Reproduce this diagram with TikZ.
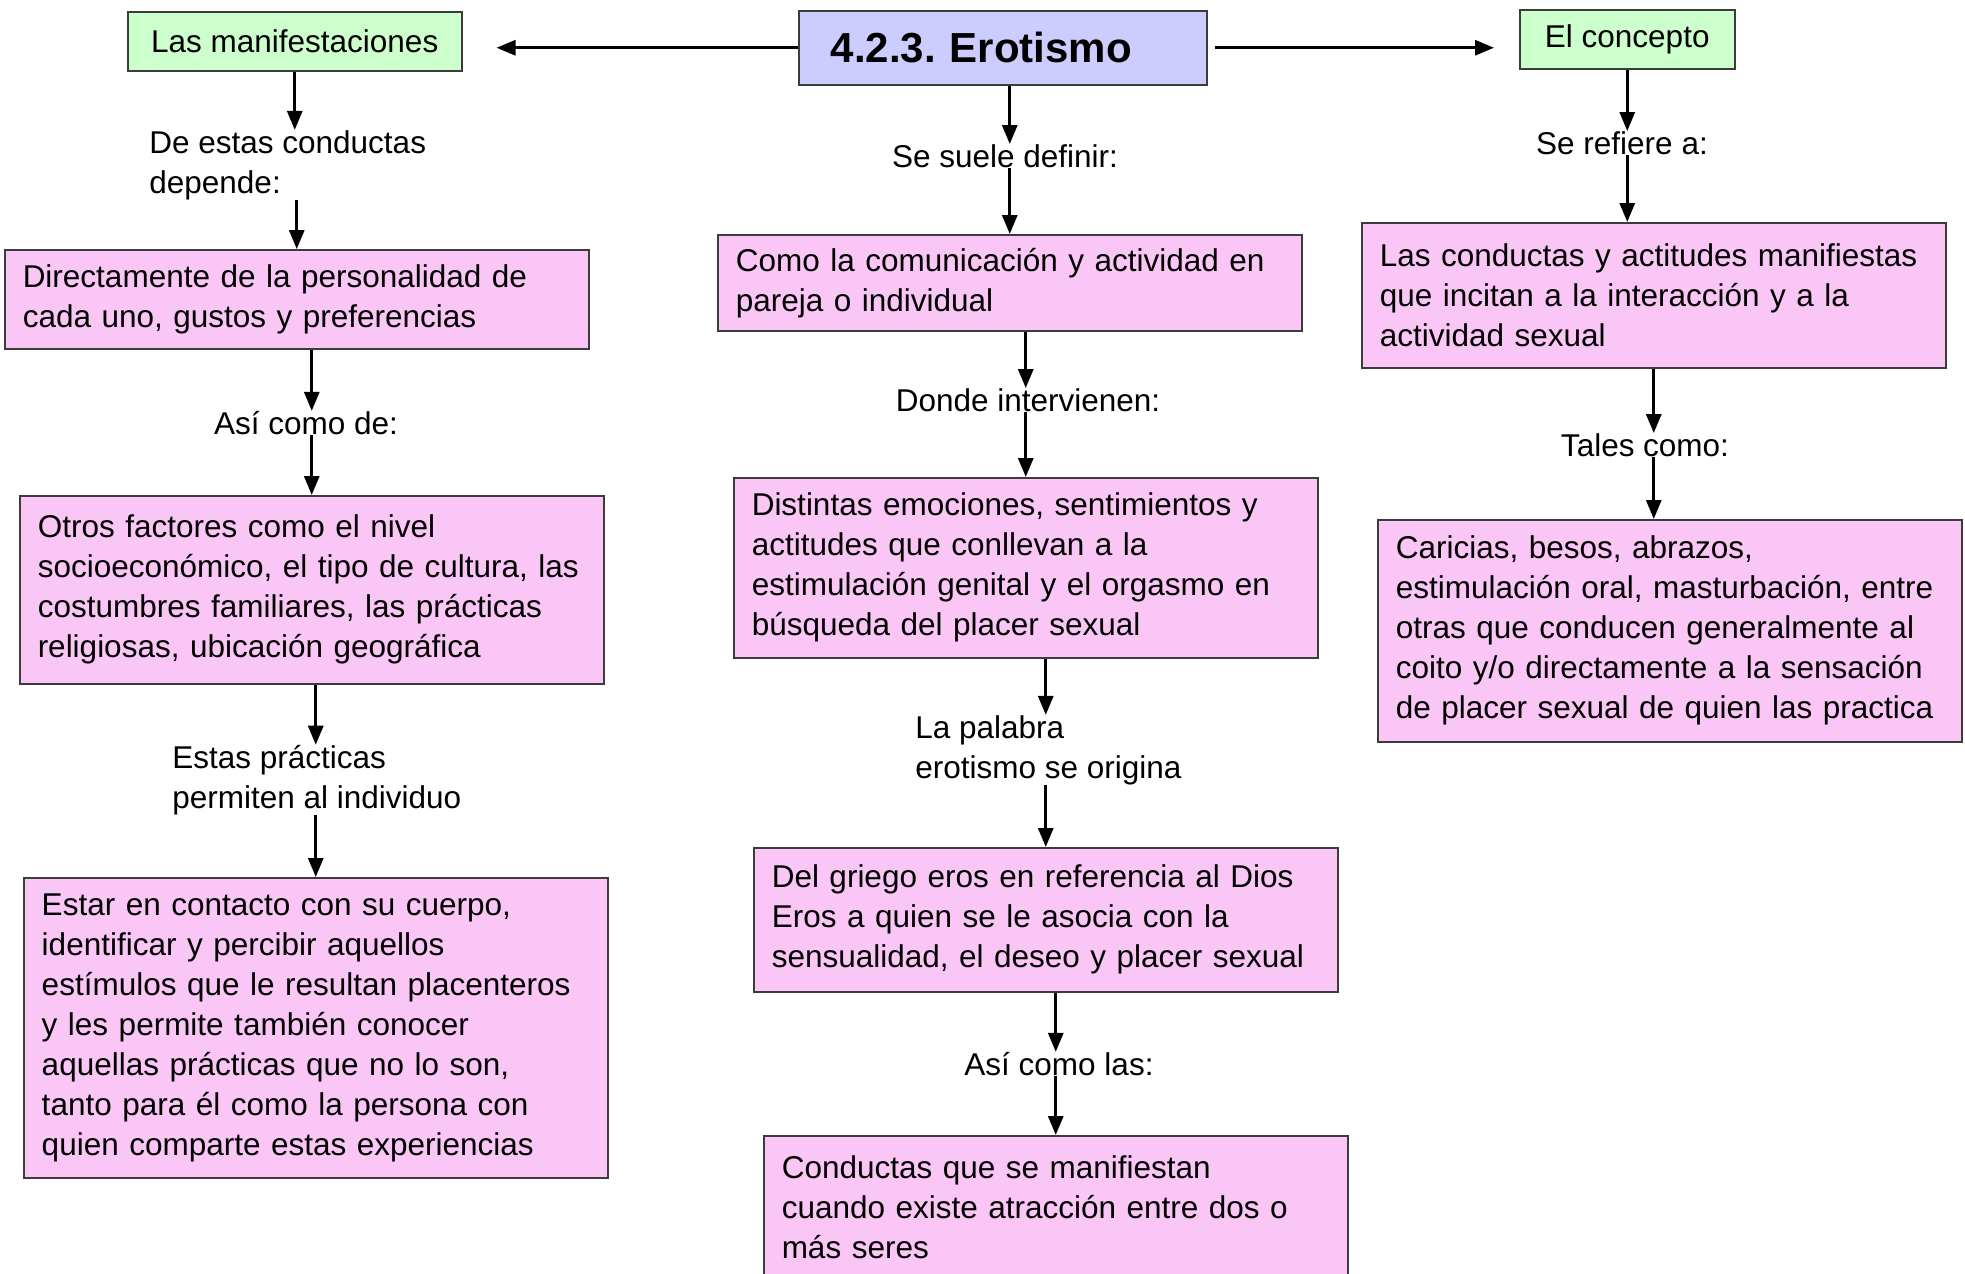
\documentclass[tikz,border=0pt]{standalone}
\usepackage{fontspec}
\setmainfont{Liberation Sans}
\usetikzlibrary{arrows.meta}
\definecolor{cPink}{RGB}{250,198,245}
\definecolor{cGreen}{RGB}{204,255,204}
\definecolor{cBlue}{RGB}{204,204,255}
\definecolor{cEdge}{RGB}{60,60,60}
\frenchspacing
\begin{document}
\begin{tikzpicture}[x=0.5pt,y=-0.5pt,
  base/.style={draw=cEdge, line width=0.75pt, inner ysep=0pt, font=\fontsize{15.75}{20}\selectfont},
  pinkbox/.style={base, fill=cPink, anchor=north west, text width=274pt, inner xsep=9pt, align=left, minimum width=292pt},
  greenbox/.style={base, fill=cGreen, anchor=north west, align=center, inner xsep=0pt},
  lbl/.style={inner sep=0pt, font=\fontsize{15.75}{20}\selectfont, align=left},
  arr/.style={line width=1.5pt, -{Triangle[length=9.5pt,width=7.5pt]}}
]
\useasboundingbox (0,0) rectangle (1965,1274);

% top row
\node[base, fill=cBlue, anchor=north west, minimum width=204pt, minimum height=37pt, text width=172pt, inner xsep=16pt, align=left, font=\fontsize{21}{25}\selectfont\bfseries] (title) at (798,10) {4.2.3. Erotismo};
\node[greenbox, minimum width=167pt, minimum height=29.5pt] (manif) at (127,11) {Las manifestaciones};
\node[greenbox, minimum width=107.5pt, minimum height=29.5pt] (concepto) at (1519,9) {El concepto};

% left column
\node[lbl, anchor=west] (dep) at (149,165) {De estas conductas\\depende:};
\node[pinkbox, minimum height=49.5pt] (dir) at (4,249) {Directamente de la personalidad de\\cada uno, gustos y preferencias};
\node[lbl] (asi1) at (306,423) {Así como de:};
\node[pinkbox, minimum height=94pt] (otros) at (19,495) {Otros factores como el nivel\\socioeconómico, el tipo de cultura, las\\costumbres familiares, las prácticas\\religiosas, ubicación geográfica};
\node[lbl, anchor=west] (estas) at (172,780) {Estas prácticas\\permiten al individuo};
\node[pinkbox, minimum height=150pt] (estar) at (23,877) {Estar en contacto con su cuerpo,\\identificar y percibir aquellos\\estímulos que le resultan placenteros\\y les permite también conocer\\aquellas prácticas que no lo son,\\tanto para él como la persona con\\quien comparte estas experiencias};

% middle column
\node[lbl] (sse) at (1005,156) {Se suele definir:};
\node[pinkbox, minimum height=48pt] (como) at (717,234) {Como la comunicación y actividad en\\pareja o individual};
\node[lbl] (donde) at (1028,400) {Donde intervienen:};
\node[pinkbox, minimum height=90pt] (dist) at (733,477) {Distintas emociones, sentimientos y\\actitudes que conllevan a la\\estimulación genital y el orgasmo en\\búsqueda del placer sexual};
\node[lbl, anchor=west] (pal) at (915,750) {La palabra\\erotismo se origina};
\node[pinkbox, minimum height=72pt] (griego) at (753,847) {Del griego eros en referencia al Dios\\Eros a quien se le asocia con la\\sensualidad, el deseo y placer sexual};
\node[lbl] (asi2) at (1059,1064) {Así como las:};
\node[pinkbox, minimum height=71pt] (cond) at (763,1135) {Conductas que se manifiestan\\cuando existe atracción entre dos o\\más seres};

% right column
\node[lbl] (ref) at (1622,143) {Se refiere a:};
\node[pinkbox, minimum height=72.5pt] (lasc) at (1361,222) {Las conductas y actitudes manifiestas\\que incitan a la interacción y a la\\actividad sexual};
\node[lbl] (tales) at (1645,445) {Tales como:};
\node[pinkbox, minimum height=111pt] (caric) at (1377,519) {Caricias, besos, abrazos,\\estimulación oral, masturbación, entre\\otras que conducen generalmente al\\coito y/o directamente a la sensación\\de placer sexual de quien las practica};

% horizontal connectors
\draw[arr, shorten >=17pt] (title.west) -- (manif.east |- title.west);
\draw[arr, shorten <=3.5pt, shorten >=12.5pt] (title.east) -- (concepto.west |- title.east);

% left connectors
\draw[arr] (manif.south) -- (manif.south |- dep.north);
\draw[arr] (dep.south -| dir.north) -- (dir.north);
\draw[arr] (dir.south -| otros.north) -- (asi1.north -| otros.north);
\draw[arr] (asi1.south -| otros.north) -- (otros.north);
\draw[arr] (otros.south -| estar.north) -- (estas.north -| estar.north);
\draw[arr] (estas.south -| estar.north) -- (estar.north);

% middle connectors
\draw[arr] (title.south -| como.north) -- (sse.north -| como.north);
\draw[arr] (sse.south -| como.north) -- (como.north);
\draw[arr] (como.south -| dist.north) -- (donde.north -| dist.north);
\draw[arr] (donde.south -| dist.north) -- (dist.north);
\draw[arr] (dist.south -| griego.north) -- (pal.north -| griego.north);
\draw[arr] (pal.south -| griego.north) -- (griego.north);
\draw[arr] (griego.south -| cond.north) -- (asi2.north -| cond.north);
\draw[arr] (asi2.south -| cond.north) -- (cond.north);

% right connectors
\draw[arr] (concepto.south) -- (concepto.south |- ref.north);
\draw[arr] (ref.south -| concepto.south) -- (lasc.north -| concepto.south);
\draw[arr] (lasc.south) -- (lasc.south |- tales.north);
\draw[arr] (tales.south -| lasc.south) -- (caric.north -| lasc.south);
\end{tikzpicture}
\end{document}
